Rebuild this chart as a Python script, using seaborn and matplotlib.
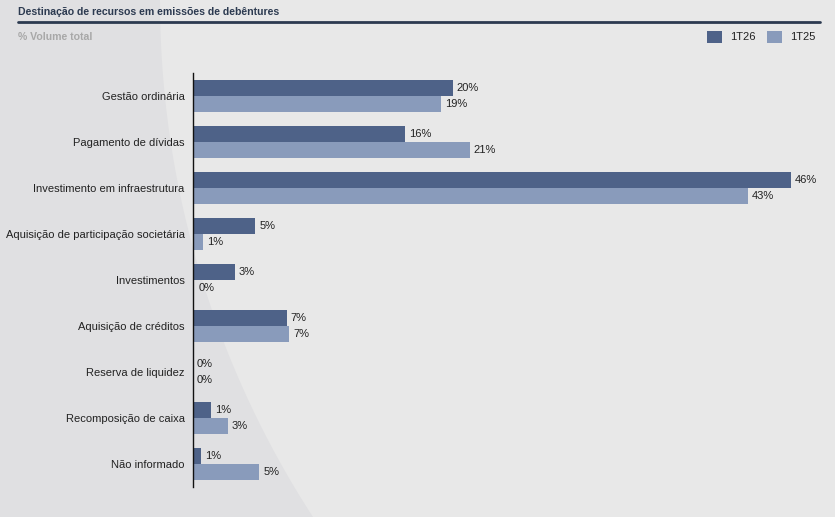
import numpy as np
import pandas as pd
import matplotlib
matplotlib.use("Agg")
import matplotlib.pyplot as plt
import seaborn as sns
from matplotlib.patches import Polygon, Rectangle
from matplotlib.lines import Line2D

categories = ["Gestão ordinária", "Pagamento de dívidas", "Investimento em infraestrutura",
              "Aquisição de participação societária", "Investimentos", "Aquisição de créditos",
              "Reserva de liquidez", "Recomposição de caixa", "Não informado"]
vals_1t26 = [20.0, 16.3, 46.0, 4.8, 3.2, 7.2, 0.0, 1.4, 0.6]
vals_1t25 = [19.1, 21.3, 42.7, 0.8, 0.1, 7.4, 0.0, 2.7, 5.1]
series = ["1T26", "1T25"]
colors = {"1T26": "#4e6288", "1T25": "#899bbb"}

df = pd.DataFrame({
    "cat": categories * 2,
    "val": vals_1t26 + vals_1t25,
    "serie": [series[0]] * len(categories) + [series[1]] * len(categories),
})

sns.set_theme(style="white")
plt.rcParams["font.family"] = ["Liberation Sans", "DejaVu Sans"]

W, H = 835, 517
fig = plt.figure(figsize=(W / 100, H / 100), dpi=100)
fig.patch.set_facecolor("#e8e8e8")

# decorative arc region on the left (background axes)
bg = fig.add_axes([0, 0, 1, 1], zorder=-5)
bg.set_axis_off()
bg.set_xlim(0, W)
bg.set_ylim(H, 0)
ys = np.linspace(0, H, 200)
R = 950.0
xs = 160 + R - np.sqrt(R ** 2 - ys ** 2)
pts = [(0, 0)] + list(zip(xs, ys)) + [(0, H)]
bg.add_patch(Polygon(pts, closed=True, facecolor="#e0e0e2", edgecolor="none"))

left = 193 / W
right = 818 / W
top = 1 - 73 / H
bottom = 1 - 487 / H
ax = fig.add_axes([left, bottom, right - left, top - bottom])
ax.set_facecolor("none")

sns.barplot(data=df, y="cat", x="val", hue="serie", orient="h", order=categories,
            hue_order=series, palette=colors, width=0.7, gap=0, ax=ax,
            legend=False, saturation=1, errorbar=None, linewidth=0)

scale = (791 - 193) / 46.0
ax.set_xlim(0, (818 - 193) / scale)
ax.set_ylim(len(categories) - 0.5, -0.5)

for cont in ax.containers:
    for bar in cont:
        w = bar.get_width()
        ax.text(w + 0.3, bar.get_y() + bar.get_height() / 2, f"{w:.0f}%",
                va="center", ha="left", fontsize=8, color="#222222")

for s in ["top", "right", "bottom"]:
    ax.spines[s].set_visible(False)
ax.spines["left"].set_color("#111111")
ax.spines["left"].set_linewidth(1.0)
ax.set_xticks([])
ax.set_xlabel("")
ax.set_ylabel("")
ax.tick_params(axis="y", length=0, pad=6, labelsize=8, labelcolor="#222222")

# header
fig.text(18 / W, 1 - 12 / H, "Destinação de recursos em emissões de debêntures",
         fontsize=7.6, fontweight="bold", color="#2c3a50", va="center", ha="left")
fig.add_artist(Line2D([18 / W, 820 / W], [1 - 22 / H, 1 - 22 / H], transform=fig.transFigure,
                      color="#2c3a50", linewidth=2))
fig.text(18 / W, 1 - 37 / H, "% Volume total", fontsize=7.6, fontweight="bold",
         color="#a8a8a8", va="center", ha="left")

# legend
for x0, name in [(707, "1T26"), (767, "1T25")]:
    fig.patches.append(Rectangle((x0 / W, 1 - 43 / H), 15 / W, 12 / H,
                                 transform=fig.transFigure, facecolor=colors[name],
                                 edgecolor="none"))
    fig.text((x0 + 23) / W, 1 - 37 / H, name, fontsize=8, color="#222222",
             va="center", ha="left")

fig.savefig("out.png", dpi=100, facecolor=fig.get_facecolor())
